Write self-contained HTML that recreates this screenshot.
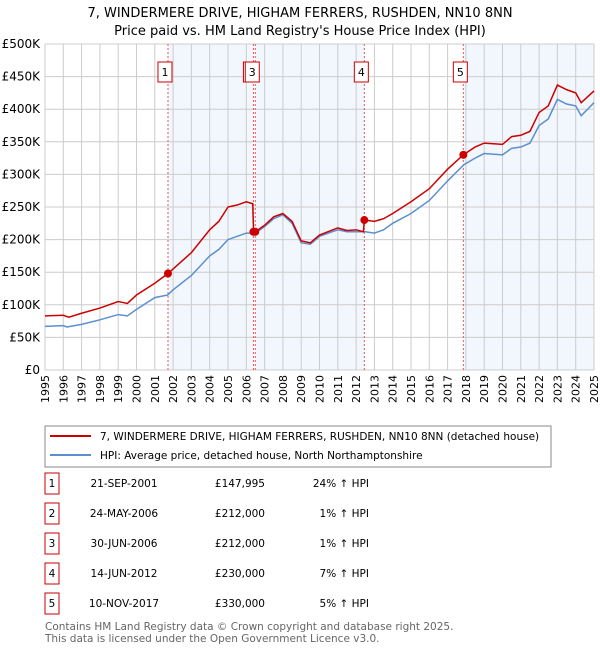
<!DOCTYPE html>
<html><head><meta charset="utf-8"><style>
body{margin:0;background:#fff;font-family:"Liberation Sans","DejaVu Sans",sans-serif;}
svg text{font-family:"DejaVu Sans","Liberation Sans",sans-serif;}
</style></head><body>
<svg id="c" width="600" height="650" viewBox="0 0 600 650" xmlns="http://www.w3.org/2000/svg">
<text x="300" y="17" font-size="13" text-anchor="middle">7, WINDERMERE DRIVE, HIGHAM FERRERS, RUSHDEN, NN10 8NN</text>
<text x="300" y="35" font-size="13" text-anchor="middle">Price paid vs. HM Land Registry's House Price Index (HPI)</text>
<g id="plot"></g>
<rect x="45" y="426" width="506" height="41" fill="#fff" stroke="#888"/>
<line x1="50" y1="436" x2="91" y2="436" stroke="#cc0000" stroke-width="2"/>
<text x="100" y="440" font-size="10.5">7, WINDERMERE DRIVE, HIGHAM FERRERS, RUSHDEN, NN10 8NN (detached house)</text>
<line x1="50" y1="455" x2="91" y2="455" stroke="#5b8fd0" stroke-width="2"/>
<text x="100" y="459" font-size="10.5">HPI: Average price, detached house, North Northamptonshire</text>
<g id="table"></g>
<text x="45" y="630" font-size="10.5" fill="#666">Contains HM Land Registry data © Crown copyright and database right 2025.</text>
<text x="45" y="642" font-size="10.5" fill="#666">This data is licensed under the Open Government Licence v3.0.</text>
</svg>
<script>
const yTicks=[0,50,100,150,200,250,300,350,400,450,500];
const yTickLabels=["£0","£50K","£100K","£150K","£200K","£250K","£300K","£350K","£400K","£450K","£500K"];
const years=[1995,1996,1997,1998,1999,2000,2001,2002,2003,2004,2005,2006,2007,2008,2009,2010,2011,2012,2013,2014,2015,2016,2017,2018,2019,2020,2021,2022,2023,2024,2025];
const hpiT=[1995,1996,1996.2,1997,1998,1999,1999.5,2000,2001,2001.7,2002,2003,2004,2004.5,2005,2005.5,2006,2006.5,2007,2007.5,2008,2008.5,2009,2009.5,2010,2011,2011.5,2012,2012.5,2013,2013.5,2014,2015,2016,2017,2017.9,2018.5,2019,2020,2020.5,2021,2021.5,2022,2022.5,2023,2023.5,2024,2024.3,2025];
const hpiV=[67,68,66,70,77,85,83,93,111,115,123,145,175,185,200,205,210,210,220,232,238,225,195,193,205,215,212,212,212,210,215,225,240,260,290,315,325,332,330,340,342,348,375,385,415,408,405,390,410];
const priceT=[1995,1996,1996.3,1997,1998,1999,1999.5,2000,2001,2001.72,2002,2003,2004,2004.5,2005,2005.5,2006,2006.35,2006.4,2006.5,2007,2007.5,2008,2008.5,2009,2009.5,2010,2011,2011.5,2012,2012.4,2012.45,2013,2013.5,2014,2015,2016,2017,2017.86,2018.5,2019,2020,2020.5,2021,2021.5,2022,2022.5,2023,2023.5,2024,2024.3,2025];
const priceV=[83,84,81,87,95,105,102,115,133,148,155,180,215,228,250,253,258,255,212,212,222,235,240,228,198,195,207,218,214,215,212,230,228,232,240,258,278,308,330,342,348,346,358,360,366,395,405,437,430,425,410,428];
const saleLabels=["1","2","3","4","5"];
const saleT=[2001.72,2006.39,2006.49,2012.45,2017.86];
const saleV=[147.995,212,212,230,330];
const saleDates=["21-SEP-2001","24-MAY-2006","30-JUN-2006","14-JUN-2012","10-NOV-2017"];
const salePrices=["£147,995","£212,000","£212,000","£230,000","£330,000"];
const saleHpi=["24% ↑ HPI","1% ↑ HPI","1% ↑ HPI","7% ↑ HPI","5% ↑ HPI"];

const NS="http://www.w3.org/2000/svg";
const X0=45,X1=594,Y0=370,Y1=44;
const x=t=>X0+(t-1995)/30*(X1-X0);
const y=v=>Y0-v/500*(Y0-Y1);
const plot=document.getElementById('plot');
function mk(tag,attrs,parent){const e=document.createElementNS(NS,tag);for(const k in attrs)e.setAttribute(k,attrs[k]);(parent||plot).appendChild(e);return e;}
const bands=[[0,1],[2,3],[4,null]];
bands.forEach((b,i)=>{const xa=x(saleT[b[0]]),xb=b[1]===null?X1:x(saleT[b[1]]);
const r=mk('rect',{x:xa,y:Y1,width:xb-xa,height:Y0-Y1,fill:'#eef3fc',opacity:0.75});

});
years.forEach(yr=>{const l=mk('line',{x1:x(yr),x2:x(yr),y1:Y1,y2:Y0,stroke:'#cccccc','stroke-width':1});


const t=mk('text',{x:0,y:0,'font-size':11,'text-anchor':'end',transform:`translate(${x(yr)+4},375) rotate(-90)`});


t.textContent=yr;});
yTicks.forEach((v,i)=>{const l=mk('line',{x1:X0,x2:X1,y1:y(v),y2:y(v),stroke:'#cccccc','stroke-width':1});


const t=mk('text',{x:40,y:y(v)+4,'font-size':12,'text-anchor':'end'});


t.textContent=yTickLabels[i];});
saleT.forEach(t=>{const l=mk('line',{x1:x(t),x2:x(t),y1:Y1,y2:Y0,stroke:'#ee5555','stroke-width':1,'stroke-dasharray':'2,2'});

});
const hp=mk('polyline',{points:hpiT.map((t,i)=>x(t)+','+y(hpiV[i])).join(' '),fill:'none',stroke:'#5b8fd0','stroke-width':1.5});


const pp=mk('polyline',{points:priceT.map((t,i)=>x(t)+','+y(priceV[i])).join(' '),fill:'none',stroke:'#cc0000','stroke-width':1.5});


saleT.forEach((t,i)=>{const c=mk('circle',{cx:x(t),cy:y(saleV[i]),r:4,fill:'#cc0000'});

});
saleT.forEach((t,i)=>{const g=mk('g',{});


mk('rect',{x:x(t)-10,y:62,width:14,height:20,fill:'#fff',stroke:'#cc0000'},g);
const tx=mk('text',{x:x(t)-3,y:76,'font-size':11,'text-anchor':'middle'},g);tx.textContent=saleLabels[i];});
const tb=document.getElementById('table');
saleLabels.forEach((s,i)=>{const cy=483+i*30;
const g=mk('g',{},tb);


mk('rect',{x:45,y:cy-10,width:14,height:21,fill:'#fff',stroke:'#cc0000'},g);
const a=mk('text',{x:52,y:cy+4,'font-size':10.5,'text-anchor':'middle'},g);a.textContent=s;
const b=mk('text',{x:124,y:cy+4,'font-size':10.5,'text-anchor':'middle'},g);b.textContent=saleDates[i];
const c=mk('text',{x:265,y:cy+4,'font-size':10.5,'text-anchor':'end'},g);c.textContent=salePrices[i];
const d=mk('text',{x:369,y:cy+4,'font-size':10.5,'text-anchor':'end'},g);d.textContent=saleHpi[i];});
</script>
</body></html>
